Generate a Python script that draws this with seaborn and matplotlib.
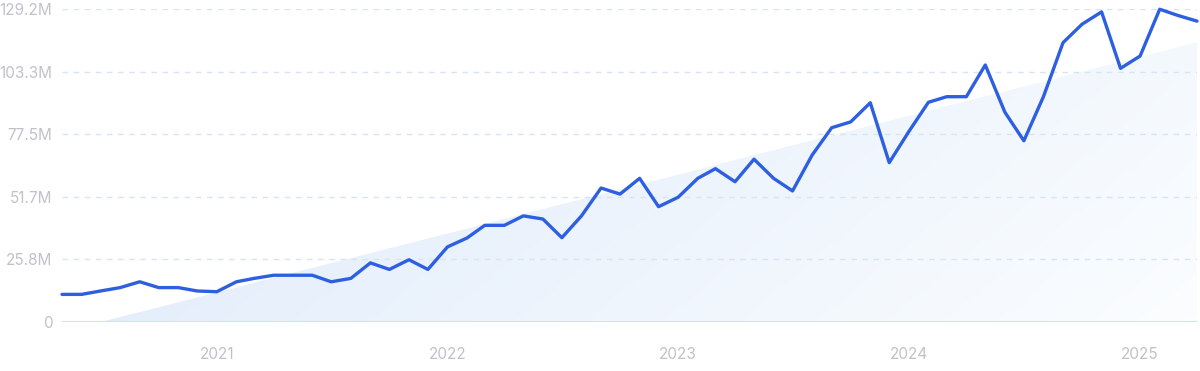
import numpy as np
import pandas as pd
import matplotlib
matplotlib.use('Agg')
import matplotlib.pyplot as plt
import matplotlib.dates as mdates
from matplotlib.colors import LinearSegmentedColormap
import seaborn as sns

# monthly values in millions, May 2020 - Apr 2025
months = pd.date_range('2020-05-01', periods=60, freq='MS')
values = [11.4, 11.4, 12.8, 14.2, 16.6, 14.2, 14.2, 12.8, 12.5, 16.6,
          18.0, 19.3, 19.3, 19.3, 16.6, 18.0, 24.4, 21.7, 25.7, 21.7,
          31.0, 34.7, 39.9, 39.9, 43.8, 42.5, 34.8, 43.8, 55.3, 52.8,
          59.3, 47.6, 51.5, 59.3, 63.3, 57.9, 67.2, 59.3, 54.1, 68.9,
          80.2, 82.6, 90.5, 65.8, 78.6, 90.7, 93.0, 93.0, 106.1, 86.6,
          74.8, 93.0, 115.3, 122.9, 128.0, 104.7, 109.8, 129.1, 126.6, 124.2]
yticks = [0, 25.8, 51.7, 77.5, 103.3, 129.2]
ytick_labels = ['0', '25.8M', '51.7M', '77.5M', '103.3M', '129.2M']
year_ticks = ['2021', '2022', '2023', '2024', '2025']

df = pd.DataFrame({'month': months, 'value': values})

sns.set_style('white')
plt.rcParams['font.family'] = ['Inter', 'DejaVu Sans']

fig = plt.figure(figsize=(12, 3.71), dpi=100)
ax = fig.add_axes([62 / 1200, 49 / 371, 1135 / 1200, 313 / 371])

# linear trend area with gradient
idx = np.arange(len(values))
slope, icpt = np.polyfit(idx, values, 1)
trend = np.clip(slope * idx + icpt, 0, None)
xnum = mdates.date2num(months)
poly = ax.fill_between(xnum, 0, trend, color='none', lw=0, zorder=1)
cmap = LinearSegmentedColormap.from_list('g', ['#dce9fa', '#fbfdff'])
gx, gy = np.meshgrid(np.linspace(0, 1, 200), np.linspace(0, 1, 60))
grad = 0.75 * gx + 0.25 * (1 - gy)
im = ax.imshow(grad, cmap=cmap, aspect='auto', origin='lower',
               extent=[xnum[0], xnum[-1], 0, 129.2], zorder=1)
im.set_clip_path(poly.get_paths()[0], transform=ax.transData)

sns.lineplot(data=df, x='month', y='value', ax=ax, color='#2d5fe0',
             lw=2.4, zorder=3, clip_on=False)

for t in yticks[1:]:
    ax.axhline(t, color='#d6e4f6', lw=1, ls=(0, (4, 4)), zorder=2)
ax.axhline(0, color='#cfe3f8', lw=1.5, zorder=2)

ax.set_xlim(xnum[0], xnum[-1])
ax.set_ylim(0, 129.2)
ax.set_yticks(yticks)
ax.set_yticklabels(ytick_labels)
ax.set_xticks([mdates.date2num(pd.Timestamp(y + '-01-01')) for y in year_ticks])
ax.set_xticklabels(year_ticks)
ax.tick_params(axis='both', length=0, labelsize=11, colors='#c0c2cb')
ax.tick_params(axis='x', pad=18)
ax.tick_params(axis='y', pad=7)
ax.set_xlabel('')
ax.set_ylabel('')
sns.despine(ax=ax, left=True, bottom=True)

fig.savefig('out.png', dpi=100)
